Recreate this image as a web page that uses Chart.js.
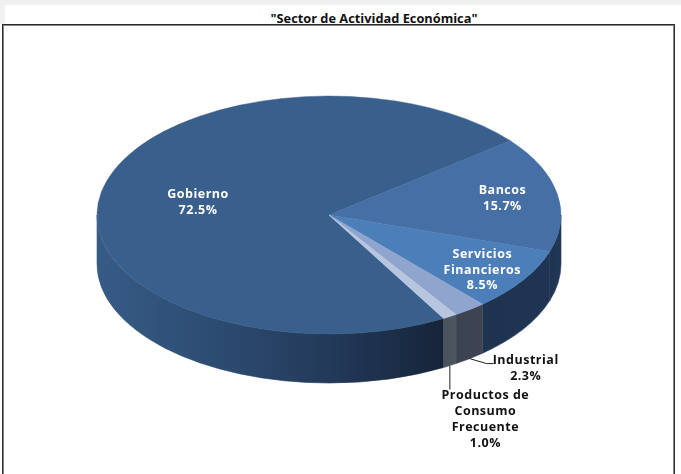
<!DOCTYPE html>
<html>
<head>
<meta charset="utf-8">
<script src="https://cdn.jsdelivr.net/npm/chart.js@4"></script>
<style>
    html, body { margin: 0; padding: 0; background: #fff; }
    #franjaSup { position: absolute; left: 0; top: 0; width: 681px; height: 5px; background: #f1f1f1; }
    #franjaIzq { position: absolute; left: 0; top: 0; width: 5px; height: 24px; background: #f1f1f1; }
    #marco { position: absolute; left: 2px; top: 24px; width: 673px; height: 460px; border: 1px solid #2b2b2b; box-shadow: inset 0 0 0 1px #858585; box-sizing: border-box; background: #fff; }
    #titulo { position: absolute; left: 174px; top: 9px; width: 400px; text-align: center; font: bold 12.8px "Open Sans", sans-serif; color: #111; }
    #caja { position: absolute; left: 0; top: 0; width: 681px; height: 474px; overflow: hidden; }
</style>
</head>
<body>
<div id="franjaSup"></div>
<div id="franjaIzq"></div>
<div id="marco"></div>
<div id="titulo"></div>
<div id="caja"><canvas id="sectorChart" width="681" height="474"></canvas></div>
<script>
const titulo = '"Sector de Actividad Económica"';
const sectores = ['Gobierno', 'Bancos', 'Servicios Financieros', 'Industrial', 'Productos de Consumo Frecuente'];
const porcentajes = [72.5, 15.7, 8.5, 2.3, 1.0];
const lineasEtiqueta = [['Gobierno'], ['Bancos'], ['Servicios', 'Financieros'], ['Industrial'], ['Productos de', 'Consumo', 'Frecuente']];

const coloresCara = ['#395f8c', '#456fa5', '#4c7eba', '#8fa5cd', '#b8c5de'];
// paradas del gradiente del canto, de izquierda a derecha
const coloresCanto = [
    ['#365b86', '#2d4c72', '#233a5a', '#16243a'],
    ['#1e3350', '#213857'],
    ['#1e3350', '#1f3553'],
    ['#3b4251', '#3e4452'],
    ['#4a525c', '#4d555e']
];

const ALTO_ELIPSE = 119;
const GROSOR = 49;
const FUENTE = 'bold 12.5px "Open Sans", sans-serif';
const INTERLINEA = 15.9;

document.getElementById('titulo').textContent = titulo;

const pie3d = {
    id: 'pie3d',
    beforeDatasetDraw(chart, args) {
        const ctx = chart.ctx;
        const arcos = args.meta.data;
        const cx = arcos[0].x, cy = arcos[0].y, R = arcos[0].outerRadius;

        // canto: solo la mitad de delante de la elipse
        arcos.forEach((arco, i) => {
            for (let k = 0; k < 2; k++) {
                const a1 = Math.max(arco.startAngle, 2 * Math.PI * k);
                const a2 = Math.min(arco.endAngle, 2 * Math.PI * k + Math.PI);
                if (a2 <= a1) continue;
                const x1 = cx + R * Math.cos(a2), x2 = cx + R * Math.cos(a1);
                const grad = ctx.createLinearGradient(x1, 0, x2, 0);
                const paradas = coloresCanto[i];
                paradas.forEach((c, j) => grad.addColorStop(j / (paradas.length - 1), c));
                ctx.beginPath();
                ctx.ellipse(cx, cy, R, ALTO_ELIPSE, 0, a1, a2);
                ctx.ellipse(cx, cy + GROSOR, R, ALTO_ELIPSE, 0, a2, a1, true);
                ctx.closePath();
                ctx.fillStyle = grad;
                ctx.strokeStyle = grad;
                ctx.lineWidth = 0.6;
                ctx.fill();
                ctx.stroke();
            }
        });

        // la cara de arriba la dibuja Chart.js, aplastada
        ctx.save();
        ctx.translate(cx, cy);
        ctx.scale(1, ALTO_ELIPSE / R);
        ctx.translate(-cx, -cy);
    },
    afterDatasetDraw(chart, args) {
        const ctx = chart.ctx;
        ctx.restore();

        const arcos = args.meta.data;
        const cx = arcos[0].x, cy = arcos[0].y, R = arcos[0].outerRadius;
        const medio = arcos.map(a => (a.startAngle + a.endAngle) / 2);
        const sobre = (i, f, extra) => ({
            x: cx + R * f * Math.cos(medio[i]),
            y: cy + ALTO_ELIPSE * f * Math.sin(medio[i]) + (extra || 0)
        });

        ctx.strokeStyle = '#222';
        ctx.lineWidth = 1;

        // guias de las dos porciones pequeñas
        const pInd = sobre(3, 1, GROSOR);
        ctx.beginPath();
        ctx.moveTo(pInd.x, pInd.y);
        ctx.lineTo(pInd.x + 17, pInd.y + 5);
        ctx.lineTo(pInd.x + 24, pInd.y + 5);
        ctx.stroke();

        const pPro = sobre(4, 1, GROSOR);
        ctx.beginPath();
        ctx.moveTo(pPro.x, pPro.y);
        ctx.lineTo(pPro.x, pPro.y + 24);
        ctx.stroke();

        // centros de las etiquetas
        const centros = [
            sobre(0, 0.575, 0.5),
            sobre(1, 0.76),
            sobre(2, 0.79, 3.5),
            { x: pInd.x + 56, y: pInd.y + 10 },
            { x: pPro.x + 35.5, y: pPro.y + 54 }
        ];

        ctx.save();
        ctx.font = FUENTE;
        ctx.letterSpacing = '0.5px';
        ctx.textAlign = 'center';
        ctx.textBaseline = 'middle';
        centros.forEach((c, i) => {
            const lineas = lineasEtiqueta[i].concat(porcentajes[i].toFixed(1) + '%');
            ctx.fillStyle = i < 3 ? '#ffffff' : '#111111';
            lineas.forEach((t, j) => {
                ctx.fillText(t, c.x, c.y + (j - (lineas.length - 1) / 2) * INTERLINEA);
            });
        });
        ctx.restore();
    }
};

new Chart(document.getElementById('sectorChart').getContext('2d'), {
    type: 'pie',
    data: {
        labels: sectores,
        datasets: [{
            data: porcentajes,
            backgroundColor: coloresCara,
            borderColor: coloresCara,
            borderWidth: 0.6,
            radius: 232,
            clip: false
        }]
    },
    options: {
        responsive: false,
        animation: false,
        rotation: 150.4,
        layout: { padding: { left: 97, right: 120, top: 0, bottom: 44 } },
        plugins: { legend: { display: false }, tooltip: { enabled: false }, title: { display: false } }
    },
    plugins: [pie3d]
});
</script>
</body>
</html>
